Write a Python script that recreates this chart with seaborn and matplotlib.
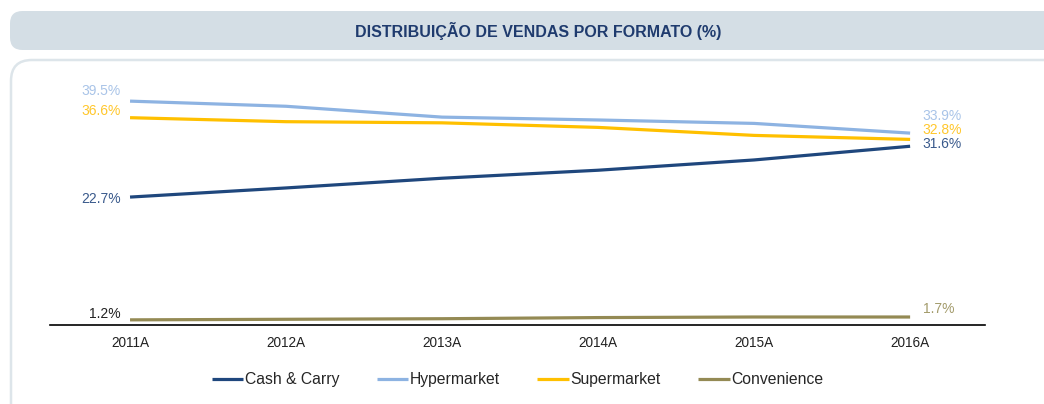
import matplotlib
matplotlib.use("Agg")
import matplotlib.pyplot as plt
from matplotlib.patches import FancyBboxPatch
import pandas as pd
import seaborn as sns

years = ["2011A", "2012A", "2013A", "2014A", "2015A", "2016A"]
cash_carry = [22.7, 24.3, 26.0, 27.4, 29.2, 31.6]
hypermarket = [39.5, 38.6, 36.7, 36.2, 35.6, 33.9]
supermarket = [36.6, 35.9, 35.7, 34.9, 33.5, 32.8]
convenience = [1.2, 1.3, 1.4, 1.6, 1.7, 1.7]

series = ["Cash & Carry", "Hypermarket", "Supermarket", "Convenience"]
line_colors = ["#1F477D", "#8DB3E2", "#FFC000", "#948A54"]
label_colors = ["#3A5A8C", "#A9C4E8", "#FFC72C", "#222222"]
right_label_colors = ["#3A5A8C", "#A9C4E8", "#FFC72C", "#A39B6B"]

df = pd.DataFrame({
    "year": years * 4,
    "value": cash_carry + hypermarket + supermarket + convenience,
    "format": [s for s in series for _ in years],
})
df["pos"] = df["year"].map({y: i for i, y in enumerate(years)})

sns.set_style("white")
plt.rcParams["font.family"] = ["Liberation Sans", "DejaVu Sans"]

fig = plt.figure(figsize=(10.44, 4.04), dpi=100)

# title bar and panel
W, H = 1044, 404
fig.patches.append(FancyBboxPatch((10 / W, 1 - 50 / H), 1.1, 39 / H,
                                  boxstyle="round,pad=0,rounding_size=0.012",
                                  transform=fig.transFigure, facecolor="#D4DEE5",
                                  edgecolor="none", mutation_aspect=W / H, zorder=-2))
fig.patches.append(FancyBboxPatch((11 / W, -0.2), 1.1, 1.2 - 60 / H,
                                  boxstyle="round,pad=0,rounding_size=0.02",
                                  transform=fig.transFigure, facecolor="white",
                                  edgecolor="#DDE5EA", linewidth=1.8,
                                  mutation_aspect=W / H, zorder=-2))
fig.text(538 / W, 1 - 31 / H, "DISTRIBUIÇÃO DE VENDAS POR FORMATO (%)",
         ha="center", va="center", fontsize=11.5, fontweight="bold", color="#1F3B6E")

ax = fig.add_axes([50 / W, 1 - 325 / H, 935 / W, 245 / H])
ax.patch.set_alpha(0)
sns.lineplot(data=df, x="pos", y="value", hue="format", hue_order=series,
             palette=line_colors, linewidth=2.3, ax=ax, legend=True)
for l in ax.lines:
    l.set_solid_capstyle("butt")

ax.set_xlim(-0.513, 5.48)
ax.set_ylim(0.3, 43.2)
ax.set_xticks(range(len(years)))
ax.set_xticklabels(years, fontsize=9.8, color="#222222")
ax.set_yticks([])
ax.set_xlabel("")
ax.set_ylabel("")
for s in ["top", "left", "right"]:
    ax.spines[s].set_visible(False)
ax.spines["bottom"].set_color("black")
ax.spines["bottom"].set_linewidth(1.2)
ax.tick_params(axis="x", length=0, pad=8)

vals = [cash_carry, hypermarket, supermarket, convenience]
left_dy = [-0.3, 1.8, 1.2, 1.0]
right_dy = [0.4, 3.0, 1.6, 1.4]
for v, c, rc, ld, rd in zip(vals, label_colors, right_label_colors, left_dy, right_dy):
    ax.text(-0.06, v[0] + ld, f"{v[0]:.1f}%", ha="right", va="center", fontsize=10, color=c)
    ax.text(5.08, v[-1] + rd, f"{v[-1]:.1f}%", ha="left", va="center", fontsize=10, color=rc)

ax.legend(loc="upper center", bbox_to_anchor=(0.5, -0.135), ncol=4, frameon=False,
          fontsize=11.3, handlelength=2.0, handletextpad=0.1, columnspacing=2.4)

fig.savefig("out.png", dpi=100)
